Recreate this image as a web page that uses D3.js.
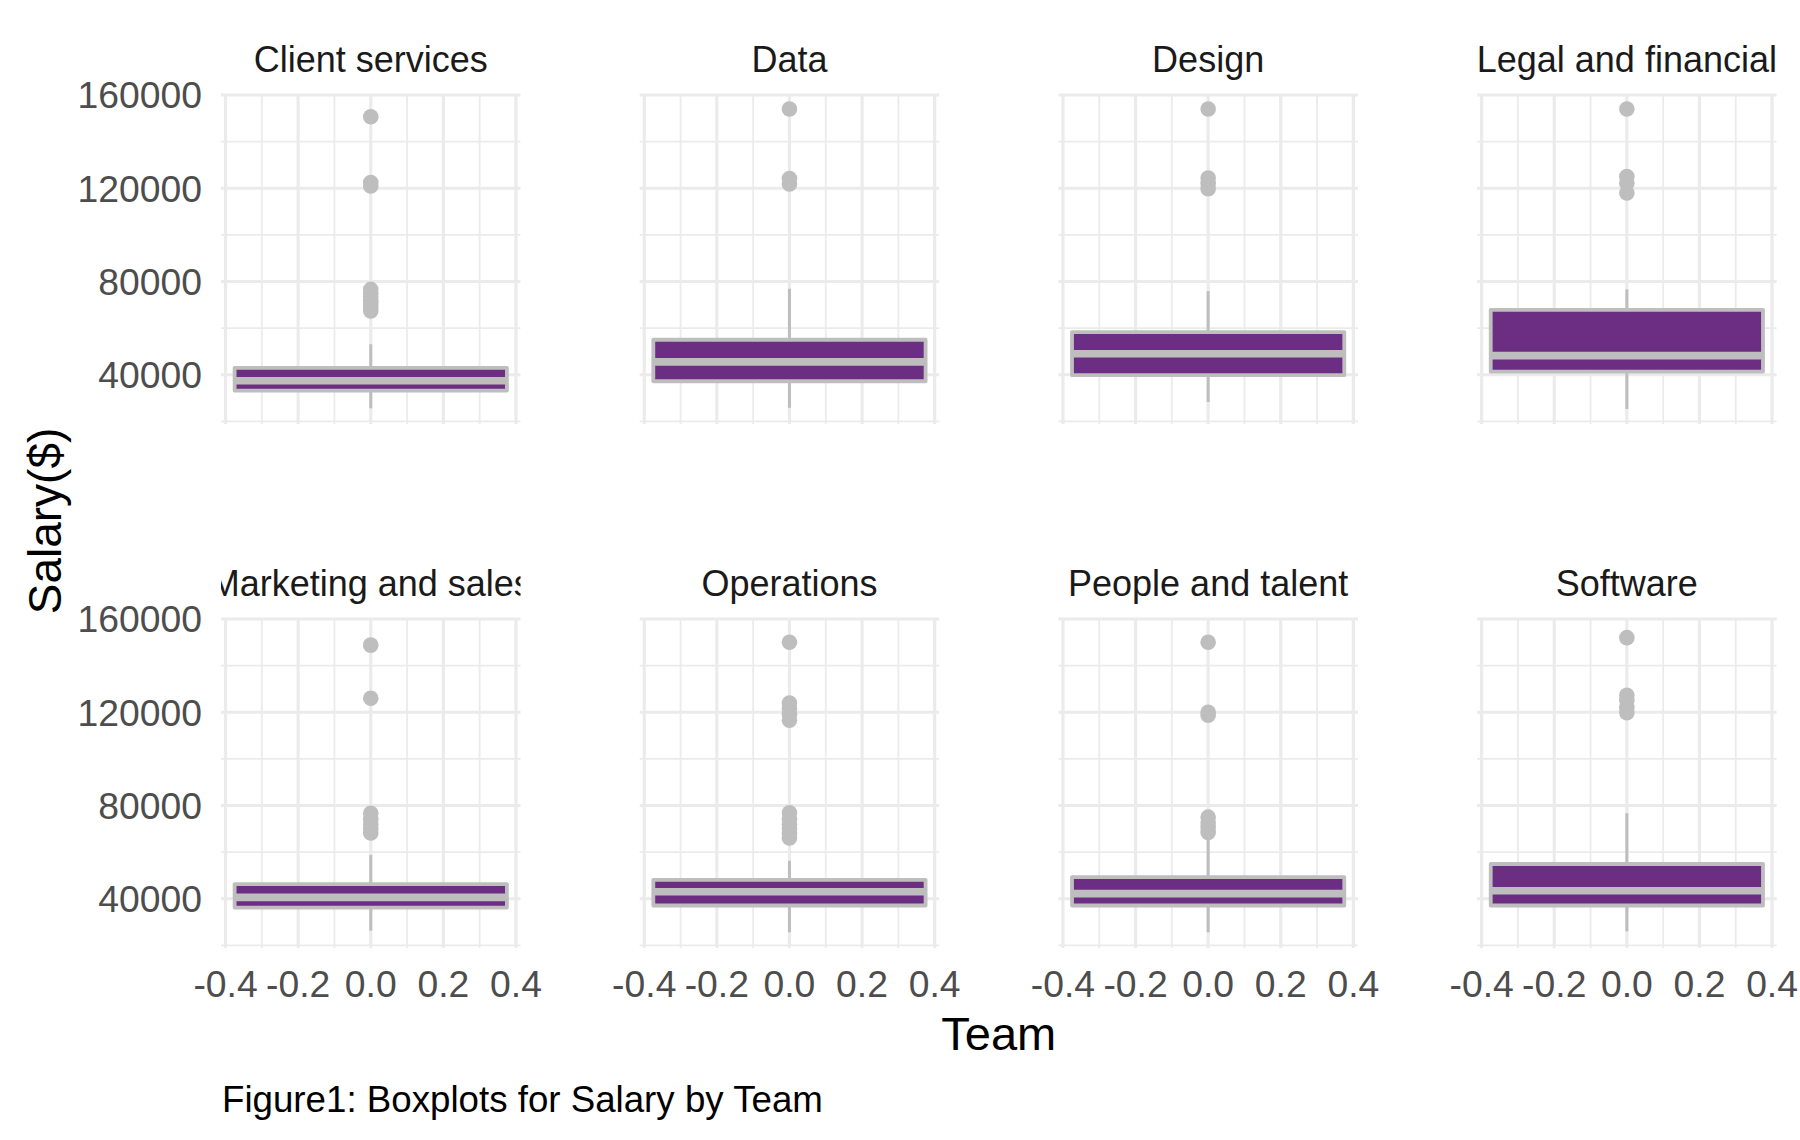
<!DOCTYPE html>
<html>
<head>
<meta charset="utf-8">
<script src="https://cdn.jsdelivr.net/npm/d3@7"></script>
<style>
  html, body { margin: 0; padding: 0; background: #fff; }
  svg { display: block; font-family: "Liberation Sans", Arial, sans-serif; }
</style>
</head>
<body>
<svg id="chart" width="1800" height="1140"></svg>
<script>
// ---- data ----
const teams = ["Client services", "Data", "Design", "Legal and financial",
               "Marketing and sales", "Operations", "People and talent", "Software"];
const whiskerLow  = [25600, 25800, 28300, 25300, 26300, 25600, 25600, 26000];
const q1          = [33200, 37200, 39800, 41300, 36200, 37100, 37100, 37100];
const median      = [37400, 45500, 49000, 48200, 40600, 43000, 42200, 43400];
const q3          = [42900, 55000, 58300, 67800, 46300, 48100, 49300, 54900];
const whiskerHigh = [53100, 76900, 75900, 76600, 58800, 56300, 67000, 76700];
const outliers = [
  [67400, 69000, 70500, 72000, 73500, 75000, 76600, 121000, 122500, 150700],
  [121800, 124200, 154000],
  [119800, 122000, 124400, 154000],
  [118000, 122200, 125000, 154000],
  [68200, 70000, 72000, 74000, 76700, 126000, 148800],
  [66100, 68000, 70000, 72000, 74000, 76900, 116600, 119000, 121500, 124000, 150000],
  [68400, 70500, 72500, 75000, 118700, 120000, 150000],
  [119800, 122000, 125000, 127300, 152000]
];
const yTicks = [40000, 80000, 120000, 160000];
const yMinor = [20000, 60000, 100000, 140000];
const xTicks = [-0.4, -0.2, 0.0, 0.2, 0.4];
const xMinor = [-0.3, -0.1, 0.1, 0.3];
const boxHalfWidth = 0.375;

// ---- layout ----
const svg = d3.select("#chart");
const panelLeft0 = 221, panelPitch = 418.7, panelW = 299.5, panelH = 330;
const rowTops = [94, 618];
const purple = "#6B2E83", grey = "#BEBEBE", gridCol = "#EBEBEB";

// scales: ggplot-like 5% expansion
const allVals = whiskerLow.concat(whiskerHigh, ...outliers);
const [vmin, vmax] = d3.extent(allVals);
const pad = (vmax - vmin) * 0.05;
const yDomain = [vmin - pad, vmax + pad];
const xDomain = [-boxHalfWidth * 1.1, boxHalfWidth * 1.1];
const fmtX = d => d3.format(".1f")(d).replace("\u2212", "-");

const defs = svg.append("defs");

teams.forEach((team, i) => {
  const col = i % 4, row = Math.floor(i / 4);
  const px = panelLeft0 + col * panelPitch;
  const py = rowTops[row];
  const x = d3.scaleLinear().domain(xDomain).range([0, panelW]);
  const y = d3.scaleLinear().domain(yDomain).range([panelH, 0]);

  const g = svg.append("g").attr("transform", `translate(${px},${py})`);

  // grid
  g.selectAll(".ymin").data(yMinor).join("line")
    .attr("x1", 0).attr("x2", panelW)
    .attr("y1", d => y(d)).attr("y2", d => y(d))
    .attr("stroke", gridCol).attr("stroke-width", 1.8);
  g.selectAll(".xmin").data(xMinor).join("line")
    .attr("y1", 0).attr("y2", panelH)
    .attr("x1", d => x(d)).attr("x2", d => x(d))
    .attr("stroke", gridCol).attr("stroke-width", 1.8);
  g.selectAll(".ymaj").data(yTicks).join("line")
    .attr("x1", 0).attr("x2", panelW)
    .attr("y1", d => y(d)).attr("y2", d => y(d))
    .attr("stroke", gridCol).attr("stroke-width", 3.2);
  g.selectAll(".xmaj").data(xTicks).join("line")
    .attr("y1", 0).attr("y2", panelH)
    .attr("x1", d => x(d)).attr("x2", d => x(d))
    .attr("stroke", gridCol).attr("stroke-width", 3.2);

  // outliers
  g.selectAll("circle").data(outliers[i]).join("circle")
    .attr("cx", x(0)).attr("cy", d => y(d)).attr("r", 7.8)
    .attr("fill", grey);

  // whiskers
  g.append("line").attr("x1", x(0)).attr("x2", x(0))
    .attr("y1", y(q3[i])).attr("y2", y(whiskerHigh[i]))
    .attr("stroke", grey).attr("stroke-width", 3);
  g.append("line").attr("x1", x(0)).attr("x2", x(0))
    .attr("y1", y(q1[i])).attr("y2", y(whiskerLow[i]))
    .attr("stroke", grey).attr("stroke-width", 3);

  // box
  g.append("rect")
    .attr("x", x(-boxHalfWidth)).attr("width", x(boxHalfWidth) - x(-boxHalfWidth))
    .attr("y", y(q3[i])).attr("height", y(q1[i]) - y(q3[i]))
    .attr("fill", purple).attr("stroke", grey).attr("stroke-width", 3.8)
    .attr("stroke-linejoin", "round");
  // median
  g.append("line")
    .attr("x1", x(-boxHalfWidth)).attr("x2", x(boxHalfWidth))
    .attr("y1", y(median[i])).attr("y2", y(median[i]))
    .attr("stroke", grey).attr("stroke-width", 7.6);

  // strip title (clipped to panel width)
  const cid = "clip" + i;
  defs.append("clipPath").attr("id", cid).append("rect")
    .attr("x", 0).attr("y", -60).attr("width", panelW).attr("height", 60);
  g.append("g").attr("clip-path", `url(#${cid})`)
    .append("text")
    .attr("x", panelW / 2).attr("y", -22)
    .attr("text-anchor", "middle")
    .attr("font-size", 36).attr("fill", "#1A1A1A")
    .text(team);

  // y tick labels (left column)
  if (col === 0) {
    g.selectAll(".yl").data(yTicks).join("text")
      .attr("x", -19).attr("y", d => y(d)).attr("dy", "0.36em")
      .attr("text-anchor", "end").attr("font-size", 37.3).attr("fill", "#4D4D4D")
      .text(d => d3.format("d")(d));
  }
  // x tick labels (bottom row)
  if (row === 1) {
    g.selectAll(".xl").data(xTicks).join("text")
      .attr("x", d => x(d)).attr("y", panelH + 49)
      .attr("text-anchor", "middle").attr("font-size", 37.3).attr("fill", "#4D4D4D")
      .text(fmtX);
  }
});

// axis titles
const areaLeft = panelLeft0, areaRight = panelLeft0 + 3 * panelPitch + panelW;
svg.append("text")
  .attr("x", (areaLeft + areaRight) / 2).attr("y", 1050)
  .attr("text-anchor", "middle").attr("font-size", 47).attr("fill", "#000")
  .text("Team");
svg.append("text")
  .attr("transform", `translate(61,${(rowTops[0] + rowTops[1] + panelH) / 2}) rotate(-90)`)
  .attr("text-anchor", "middle").attr("font-size", 46).attr("fill", "#000")
  .text("Salary($)");

// caption
svg.append("text")
  .attr("x", areaLeft + 1).attr("y", 1112)
  .attr("font-size", 36.7).attr("fill", "#000")
  .text("Figure1: Boxplots for Salary by Team");
</script>
</body>
</html>
